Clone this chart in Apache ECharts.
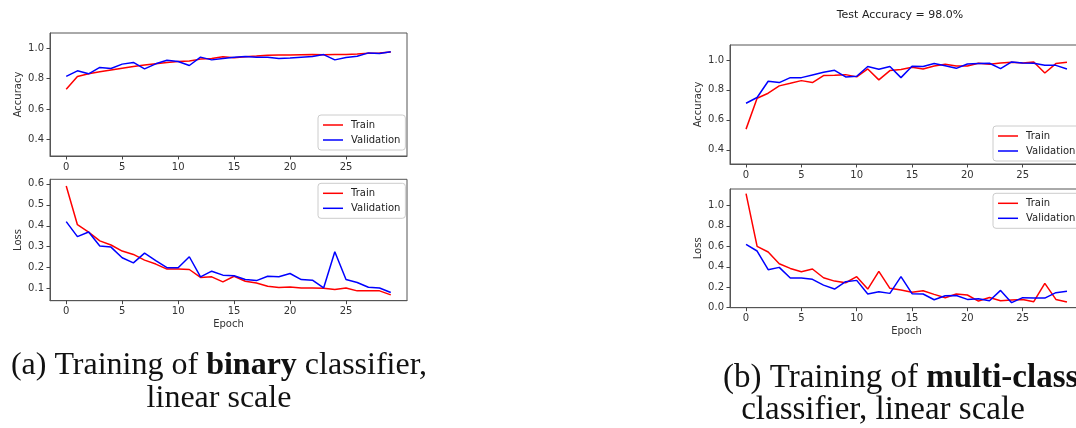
<!DOCTYPE html>
<html>
<head>
<meta charset="utf-8">
<script src="https://cdn.jsdelivr.net/npm/echarts@6/dist/echarts.min.js"></script>
<style>html,body{margin:0;padding:0;background:#fff}#c{width:1076px;height:428px}</style>
</head>
<body>
<div id="c"></div>
<script>
// ---- data ----
const epochs = [0,1,2,3,4,5,6,7,8,9,10,11,12,13,14,15,16,17,18,19,20,21,22,23,24,25,26,27,28,29];
const xTicks = [0,5,10,15,20,25];
const accTicks = [0.4,0.6,0.8,1.0];
const lossTicksA = [0.1,0.2,0.3,0.4,0.5,0.6];
const lossTicksB = [0.0,0.2,0.4,0.6,0.8,1.0];

// (a) binary classifier
const binTrainAcc = [0.73,0.814,0.831,0.845,0.857,0.868,0.879,0.89,0.898,0.906,0.912,0.916,0.928,0.932,0.944,0.937,0.943,0.948,0.954,0.955,0.955,0.957,0.958,0.957,0.958,0.959,0.962,0.966,0.968,0.975];
const binValAcc = [0.814,0.851,0.831,0.873,0.866,0.895,0.906,0.864,0.897,0.921,0.912,0.886,0.941,0.923,0.932,0.941,0.945,0.941,0.941,0.932,0.936,0.941,0.945,0.958,0.923,0.939,0.947,0.969,0.965,0.976];
const binTrainLoss = [0.59,0.405,0.37,0.328,0.308,0.279,0.263,0.236,0.217,0.193,0.193,0.191,0.153,0.156,0.132,0.159,0.135,0.127,0.111,0.105,0.108,0.103,0.103,0.102,0.095,0.103,0.089,0.089,0.089,0.07];
const binValLoss = [0.42,0.348,0.37,0.303,0.298,0.247,0.223,0.269,0.234,0.2,0.199,0.252,0.156,0.183,0.164,0.161,0.143,0.138,0.159,0.156,0.172,0.143,0.14,0.103,0.276,0.143,0.129,0.106,0.103,0.081];

// (b) multi-class classifier
const mcTrainAcc = [0.538,0.744,0.778,0.827,0.844,0.862,0.849,0.896,0.898,0.902,0.887,0.94,0.867,0.929,0.936,0.951,0.94,0.96,0.971,0.96,0.96,0.978,0.971,0.98,0.984,0.98,0.987,0.913,0.976,0.984];
const mcValAcc = [0.711,0.749,0.858,0.849,0.882,0.882,0.9,0.918,0.931,0.887,0.891,0.956,0.938,0.956,0.882,0.958,0.956,0.976,0.962,0.944,0.973,0.976,0.978,0.942,0.987,0.98,0.978,0.964,0.964,0.94];
const mcTrainLoss = [1.115,0.6,0.544,0.43,0.384,0.352,0.378,0.293,0.26,0.244,0.303,0.182,0.355,0.189,0.173,0.15,0.166,0.13,0.098,0.134,0.124,0.065,0.1,0.068,0.075,0.081,0.059,0.238,0.081,0.055];
const mcValLoss = [0.619,0.554,0.371,0.394,0.29,0.29,0.277,0.221,0.182,0.254,0.267,0.134,0.156,0.14,0.303,0.137,0.134,0.078,0.117,0.12,0.081,0.088,0.068,0.169,0.049,0.098,0.094,0.094,0.147,0.16];

const testAccText = 'Test Accuracy = 98.0%';

// ---- chart ----
const FONT = 'DejaVu Sans';
const pairs = arr => epochs.map((e, i) => [e, arr[i]]);

const grids = [
  {left: 50, top: 33, width: 357, height: 123},
  {left: 50, top: 179.3, width: 357, height: 121.4},
  {left: 730, top: 45, width: 353, height: 119},
  {left: 730, top: 189, width: 353, height: 118.7}
].map(g => Object.assign(g, {show: true, borderColor: '#555', borderWidth: 1, backgroundColor: 'transparent', outerBoundsMode: 'none', containLabel: false}));

function xAx(i, showName) {
  return {
    type: 'value', gridIndex: i, min: -1.45, max: 30.45, position: 'bottom',
    axisLine: {show: true, onZero: false, lineStyle: {color: '#555', width: 1}},
    splitLine: {show: false},
    axisTick: {show: true, inside: false, length: 3.5, lineStyle: {color: '#444', width: 1}, customValues: xTicks},
    axisLabel: {customValues: xTicks, margin: 6, fontFamily: FONT, fontSize: 10, color: '#333'},
    name: showName ? 'Epoch' : '', nameLocation: 'middle', nameGap: 19,
    nameTextStyle: {fontFamily: FONT, fontSize: 10, color: '#333'}
  };
}
function yAx(i, min, max, ticks, name) {
  return {
    type: 'value', gridIndex: i, min: min, max: max, position: 'left',
    axisLine: {show: true, onZero: false, lineStyle: {color: '#555', width: 1}},
    splitLine: {show: false},
    axisTick: {show: true, inside: false, length: 3.5, lineStyle: {color: '#444', width: 1}, customValues: ticks},
    axisLabel: {customValues: ticks, margin: 6, fontFamily: FONT, fontSize: 10, color: '#333', formatter: v => v.toFixed(1)},
    name: name, nameLocation: 'middle', nameGap: 27, nameRotate: 90,
    nameTextStyle: {fontFamily: FONT, fontSize: 10, color: '#333'}
  };
}
function ser(name, data, gi, color) {
  return {
    type: 'line', name: name, xAxisIndex: gi, yAxisIndex: gi,
    data: pairs(data), symbol: 'none', showSymbol: false,
    lineStyle: {color: color, width: 1.5}, itemStyle: {color: color},
    emphasis: {disabled: true}, z: name === 'Train' ? 2 : 3
  };
}
function leg(left, top) {
  return {
    data: ['Train', 'Validation'], orient: 'vertical', left: left, top: top,
    icon: 'rect', itemWidth: 20, itemHeight: 1.5, itemGap: 3,
    padding: [4, 5, 4, 5], borderColor: '#ccc', borderWidth: 1, borderRadius: 3,
    backgroundColor: 'rgba(255,255,255,0.8)', selectedMode: false,
    textStyle: {fontFamily: FONT, fontSize: 10, color: '#222', lineHeight: 12, padding: [0, 0, 0, 3]}
  };
}
function caption(x, y, txt, align, size) {
  return {
    type: 'text', x: x, y: y, silent: true,
    style: {
      text: txt,
      rich: {
        n: {fontFamily: 'Liberation Serif', fontSize: size, fontWeight: 'normal', fill: '#111'},
        b: {fontFamily: 'Liberation Serif', fontSize: size, fontWeight: 'bold', fill: '#111'}
      },
      align: align, verticalAlign: 'middle', textAlign: align, textVerticalAlign: 'middle', fill: '#111'
    }
  };
}

const option = {
  animation: false,
  backgroundColor: '#fff',
  grid: grids,
  xAxis: [xAx(0, false), xAx(1, true), xAx(2, false), xAx(3, true)],
  yAxis: [
    yAx(0, 0.29, 1.1, accTicks, 'Accuracy'),
    yAx(1, 0.042, 0.622, lossTicksA, 'Loss'),
    yAx(2, 0.305, 1.1, accTicks, 'Accuracy'),
    yAx(3, 0, 1.16, lossTicksB, 'Loss')
  ],
  legend: [leg(318, 115), leg(318, 183.3), leg(993, 126), leg(993, 193.3)],
  series: [
    ser('Train', binTrainAcc, 0, '#ff0000'),
    ser('Validation', binValAcc, 0, '#0000ff'),
    ser('Train', binTrainLoss, 1, '#ff0000'),
    ser('Validation', binValLoss, 1, '#0000ff'),
    ser('Train', mcTrainAcc, 2, '#ff0000'),
    ser('Validation', mcValAcc, 2, '#0000ff'),
    ser('Train', mcTrainLoss, 3, '#ff0000'),
    ser('Validation', mcValLoss, 3, '#0000ff')
  ],
  graphic: [
    {type: 'text', x: 900, y: 15, silent: true,
     style: {text: testAccText, font: '11px "DejaVu Sans"', fill: '#222', align: 'center', verticalAlign: 'middle', textAlign: 'center', textVerticalAlign: 'middle'}},
    caption(219, 366, '{n|(a) Training of }{b|binary}{n| classifier,}', 'center', 32),
    caption(219, 399, '{n|linear scale}', 'center', 32),
    caption(723, 378, '{n|(b) Training of }{b|multi-class}', 'left', 33),
    caption(883, 410, '{n|classifier, linear scale}', 'center', 33)
  ]
};

const chart = echarts.init(document.getElementById('c'), null, {renderer: 'canvas'});
chart.setOption(option);
</script>
</body>
</html>
